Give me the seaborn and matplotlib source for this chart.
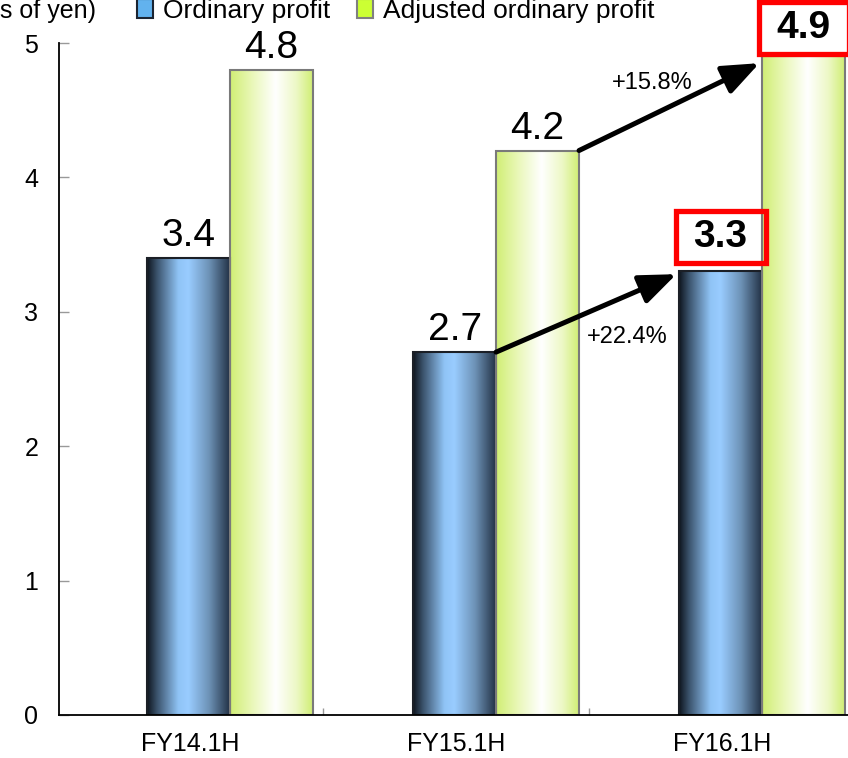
import numpy as np
import pandas as pd
import matplotlib
matplotlib.use("Agg")
import matplotlib.pyplot as plt
from matplotlib.colors import LinearSegmentedColormap
from matplotlib.patches import Patch, Rectangle
import seaborn as sns

# ---- data -------------------------------------------------------------
periods = ["FY14.1H", "FY15.1H", "FY16.1H"]
series_names = ["Ordinary profit", "Adjusted ordinary profit"]
ordinary_profit = [3.4, 2.7, 3.3]
adjusted_profit = [4.8, 4.2, 4.9]
growth_ordinary = "+22.4%"
growth_adjusted = "+15.8%"
unit_label = "(Billions of yen)"
y_ticks = [0, 1, 2, 3, 4, 5]

df = pd.DataFrame({
    "period": periods * 2,
    "series": [series_names[0]] * len(periods) + [series_names[1]] * len(periods),
    "value": ordinary_profit + adjusted_profit,
})

# ---- style ------------------------------------------------------------
sns.set_style("ticks")
plt.rcParams["font.family"] = ["Liberation Sans", "DejaVu Sans"]
plt.rcParams["text.color"] = "black"
plt.rcParams["axes.labelcolor"] = "black"

W, H = 848, 758
fig = plt.figure(figsize=(W / 100, H / 100), dpi=100)
ax = fig.add_axes([59 / W, (H - 715) / H, (W - 59) / W, 672 / H])

BAR_GROUP = 0.624
sns.barplot(data=df, x="period", y="value", hue="series", order=periods,
            hue_order=series_names, width=BAR_GROUP, dodge=True,
            palette=["#6fa8dc", "#d4f07a"], saturation=1, errorbar=None,
            legend=False, ax=ax)

# horizontal gradient fills, clipped to each bar
blue_cmap = LinearSegmentedColormap.from_list("cyl_blue", [
    (0.0, "#0e151e"), (0.12, "#3b536c"), (0.38, "#90c4f6"), (0.5, "#99ccff"),
    (0.75, "#6d92b6"), (1.0, "#233246")])
green_cmap = LinearSegmentedColormap.from_list("cyl_green", [
    (0.0, "#d0ee74"), (0.25, "#e8f7b4"), (0.55, "#ffffff"), (0.8, "#edf8c6"),
    (1.0, "#d0ee74")])
grad = np.linspace(0, 1, 256).reshape(1, -1)

n = len(periods)
bars = list(ax.patches)
for i, bar in enumerate(bars):
    bb = bar.get_bbox()
    ordinary = i < n
    im = ax.imshow(grad, extent=[bb.x0, bb.x1, bb.y0, bb.y1], aspect="auto",
                   cmap=blue_cmap if ordinary else green_cmap, origin="lower",
                   zorder=2, interpolation="bicubic")
    im.set_clip_path(bar)
    bar.set_facecolor("none")
    bar.set_zorder(3)
    bar.set_edgecolor("#1b1f26" if ordinary else "#7a7a7a")
    bar.set_linewidth(1.5)

# ---- axes -------------------------------------------------------------
ax.set_ylim(0, 5)
ax.set_xlim(-0.643, 2.323)
ax.set_yticks(y_ticks)
ax.set_yticklabels([str(t) for t in y_ticks])
ax.set_xticks([k - 0.15 for k in range(n)])
ax.set_xticklabels(periods)
ax.set_xticks([k + 0.35 for k in range(n - 1)], minor=True)
ax.tick_params(axis="x", which="major", length=0, pad=12, labelsize=18,
               labelcolor="black")
ax.tick_params(axis="x", which="minor", direction="in", length=5,
               color="#999999", width=1)
ax.tick_params(axis="y", direction="in", length=7, color="#999999", width=1,
               pad=15, labelsize=18, labelcolor="black")
ax.set_xlabel("")
ax.set_ylabel("")
for side in ("top", "right"):
    ax.spines[side].set_visible(False)
for side in ("left", "bottom"):
    ax.spines[side].set_color("black")
    ax.spines[side].set_linewidth(1.3)
ax.spines["bottom"].set_zorder(4)

# ---- value labels -----------------------------------------------------
highlight = []
values = ordinary_profit + adjusted_profit
for i, bar in enumerate(bars):
    bb = bar.get_bbox()
    val = values[i]
    cx = (bb.x0 + bb.x1) / 2
    if i % n == n - 1:
        t = ax.annotate(f"{val:.1f}", xy=(cx, val), xytext=(0, 24),
                        textcoords="offset pixels", ha="center", va="baseline",
                        fontsize=28, fontweight="bold", zorder=6,
                        annotation_clip=False)
        highlight.append(t)
    else:
        ax.annotate(f"{val:.1f}", xy=(cx, val), xytext=(0, 12),
                    textcoords="offset pixels", ha="center", va="baseline",
                    fontsize=28, zorder=6, annotation_clip=False)

# red frames around the latest-period figures
fig.canvas.draw()
for t in highlight:
    ext = t.get_window_extent()
    x0, y0 = ext.x0 - 18, ext.y0 - 8
    w, h = ext.width + 36, ext.height + 16
    over = (y0 + h) - (H - 2)
    if over > 0:
        t.xyann = (t.xyann[0], t.xyann[1] - over)
        y0 -= over
    fig.patches.append(Rectangle((x0 / W, y0 / H), w / W, h / H,
                                 transform=fig.transFigure, fill=False,
                                 edgecolor="#ff0000", linewidth=3.8,
                                 zorder=7))

# ---- growth arrows ----------------------------------------------------
half = BAR_GROUP / 2
arrow_kw = dict(arrowstyle="-|>,head_length=1.5,head_width=0.6",
                mutation_scale=15, color="black", lw=3.6,
                shrinkA=0, shrinkB=0)
ax.annotate("", xy=(2 - half - 0.01, ordinary_profit[2] - 0.02),
            xytext=(1.0, ordinary_profit[1]), arrowprops=arrow_kw, zorder=5)
ax.annotate("", xy=(2 - 0.01, adjusted_profit[2] - 0.05),
            xytext=(1 + half, adjusted_profit[1]), arrowprops=arrow_kw, zorder=5)
ax.text(1.492, 2.81, growth_ordinary, ha="center", va="center", fontsize=17,
        zorder=6)
ax.text(1.586, 4.70, growth_adjusted, ha="center", va="center", fontsize=17,
        zorder=6)

# ---- legend and unit --------------------------------------------------
handles = [Patch(facecolor="#62b2ee", edgecolor="#1b2431", linewidth=1.5),
           Patch(facecolor="#ccff33", edgecolor="#808080", linewidth=1.5)]
fig.legend(handles, series_names, loc="center left",
           bbox_to_anchor=(137 / W, 1 - 11 / H), ncol=2, frameon=False,
           fontsize=19, handlelength=0.6, handleheight=0.75,
           handletextpad=0.4, columnspacing=1.0, borderaxespad=0,
           borderpad=0)
fig.text(96 / W, 1 - 11 / H, unit_label, ha="right", va="center", fontsize=18)

fig.savefig("out.png", dpi=100)
